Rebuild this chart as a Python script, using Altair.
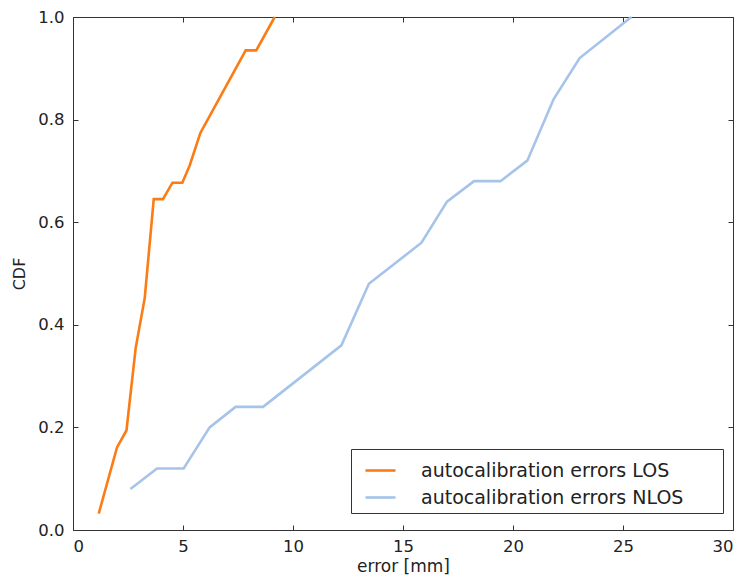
import altair as alt
import pandas as pd

# LOS series (orange)
los_x = [1.17, 2.0, 2.43, 2.85, 3.26, 3.67, 4.09, 4.52, 4.97, 5.3, 5.79, 7.85, 8.33, 9.17]
los_y = [0.032, 0.161, 0.194, 0.355, 0.452, 0.645, 0.645, 0.677, 0.677, 0.71, 0.774, 0.935, 0.935, 1.0]
# NLOS series (light blue)
nlos_x = [2.61, 3.82, 5.03, 6.21, 7.39, 8.64, 12.2, 13.45, 15.84, 17.0, 18.23, 19.43, 20.65, 21.85, 23.03, 25.38]
nlos_y = [0.08, 0.12, 0.12, 0.2, 0.24, 0.24, 0.36, 0.48, 0.56, 0.64, 0.68, 0.68, 0.72, 0.84, 0.92, 1.0]

series_names = ["autocalibration errors LOS", "autocalibration errors NLOS"]
series_colors = ["#fb7c14", "#a6c3ea"]
x_ticks = [0, 5, 10, 15, 20, 25, 30]
y_ticks = [0.0, 0.2, 0.4, 0.6, 0.8, 1.0]

rows = []
for i, (x, y) in enumerate(zip(los_x, los_y)):
    rows.append({"error": x, "cdf": y, "series": series_names[0], "idx": i})
for i, (x, y) in enumerate(zip(nlos_x, nlos_y)):
    rows.append({"error": x, "cdf": y, "series": series_names[1], "idx": i})
df = pd.DataFrame(rows)

FONT = "DejaVu Sans"
xscale = alt.Scale(domain=[0, 30], nice=False, zero=False)
yscale = alt.Scale(domain=[0, 1], nice=False, zero=False)

tick_style = dict(domain=False, grid=False, ticks=True, tickSize=5, tickColor="#333333",
                  tickWidth=1, offset=-5)
label_style = dict(labelFont=FONT, labelFontSize=16.5, labelColor="#222222",
                   titleFont=FONT, titleFontWeight="normal", titleColor="#222222")

lines = alt.Chart(df).mark_line(strokeWidth=2.6).encode(
    x=alt.X("error:Q", scale=xscale,
            axis=alt.Axis(title="error [mm]", values=x_ticks, format="d", labelPadding=8,
                          titlePadding=4, titleFontSize=17, **tick_style, **label_style)),
    y=alt.Y("cdf:Q", scale=yscale,
            axis=alt.Axis(title="CDF", values=y_ticks, format=".1f", labelPadding=9,
                          titlePadding=10, titleFontSize=16, **tick_style, **label_style)),
    color=alt.Color("series:N",
                    scale=alt.Scale(domain=series_names, range=series_colors),
                    legend=alt.Legend(title=None, orient="none", legendX=278, legendY=432,
                                      symbolType="stroke", symbolSize=900, symbolStrokeWidth=2.6,
                                      labelFont=FONT, labelFontSize=19, labelColor="#222222",
                                      labelLimit=600,
                                      strokeColor="#333333", fillColor="white", padding=5,
                                      symbolOffset=8, labelOffset=24, rowPadding=0,
                                      labelExpr="datum.label + ' \u2800\u2800'")),
    order="idx:Q",
)

frame_axes = alt.Chart(df).mark_point(opacity=0).encode(
    x=alt.X("error:Q", scale=xscale,
            axis=alt.Axis(orient="top", title=None, values=x_ticks, labels=False, **tick_style)),
    y=alt.Y("cdf:Q", scale=yscale,
            axis=alt.Axis(orient="right", title=None, values=y_ticks, labels=False, **tick_style)),
)

chart = alt.layer(lines, frame_axes).resolve_axis(x="independent", y="independent").properties(
    width=660, height=513,
    autosize=alt.AutoSizeParams(type="none"),
    padding={"left": 65, "top": 9, "right": 4, "bottom": 46},
    background="white",
).configure_view(stroke="#333333", strokeWidth=1)

chart.save("out.html", embed_options={"renderer": "svg", "actions": False})
